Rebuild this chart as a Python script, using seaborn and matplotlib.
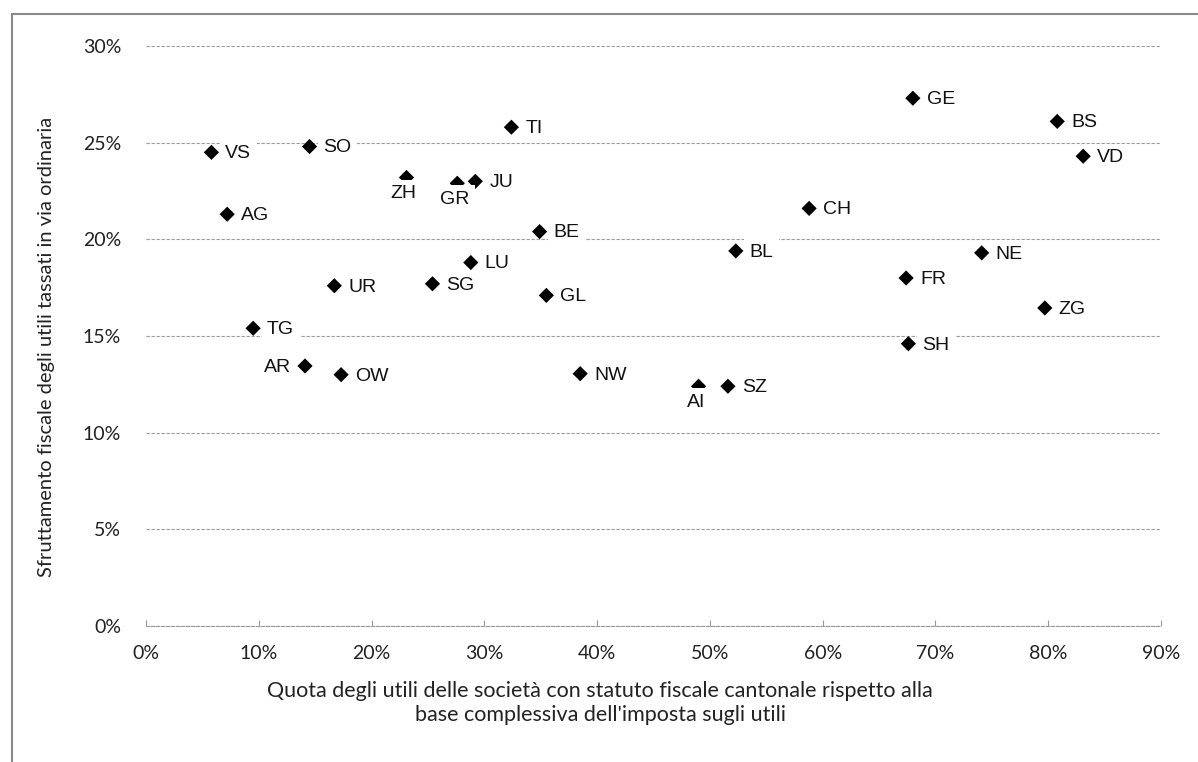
import matplotlib
matplotlib.use("Agg")
import matplotlib.pyplot as plt
from matplotlib.lines import Line2D
from matplotlib.ticker import FuncFormatter, MultipleLocator
import pandas as pd
import seaborn as sns

# Cantons (and Switzerland overall)
cantons = ["VS", "SO", "AG", "ZH", "GR", "JU", "TI", "BE", "LU", "SG", "UR", "GL",
           "TG", "AR", "OW", "NW", "AI", "SZ", "CH", "BL", "GE", "BS", "VD", "NE",
           "FR", "ZG", "SH"]
# Share of profits of companies with cantonal tax status (in % of the profit tax base)
share_status = [5.8, 14.5, 7.2, 23.1, 27.6, 29.2, 32.4, 34.9, 28.8, 25.4, 16.7, 35.5,
                9.5, 14.1, 17.3, 38.5, 49.0, 51.6, 58.8, 52.3, 68.0, 80.8, 83.1, 74.1,
                67.4, 79.7, 67.6]
# Fiscal exploitation of ordinarily taxed profits (%)
exploitation = [24.5, 24.8, 21.3, 23.2, 22.9, 23.0, 25.8, 20.4, 18.8, 17.7, 17.6, 17.1,
                15.4, 13.45, 13.0, 13.05, 12.4, 12.4, 21.6, 19.4, 27.3, 26.1, 24.3, 19.3,
                18.0, 16.45, 14.6]

# Labels placed left of or below their marker; the others go to the right
left_labels = {"AR"}
below_labels = {"ZH", "GR", "AI"}

df = pd.DataFrame({"canton": cantons, "x": share_status, "y": exploitation})

sns.set_theme(style="white")
plt.rcParams["font.family"] = ["Lato", "DejaVu Sans"]

fig = plt.figure(figsize=(11.98, 7.62), dpi=100)
ax = fig.add_axes([146 / 1198, 1 - 626 / 762, (1161 - 146) / 1198, (626 - 46) / 762])

sns.scatterplot(data=df, x="x", y="y", marker="D", color="black", s=60,
                edgecolor="none", ax=ax, zorder=3)

label_font = ["Liberation Sans Narrow", "Liberation Sans", "DejaVu Sans"]
box = dict(boxstyle="square,pad=0.28", facecolor="white", edgecolor="none")
for name, xv, yv in zip(df["canton"], df["x"], df["y"]):
    if name in left_labels:
        off, ha, va = (-10, -1), "right", "center"
    elif name in below_labels:
        off, ha, va = (-2, -5.5), "center", "top"
    else:
        off, ha, va = (10, -1), "left", "center"
    ax.annotate(name, (xv, yv), xytext=off, textcoords="offset points",
                ha=ha, va=va, fontsize=14, family=label_font, color="#111111",
                bbox=box, zorder=4)

ax.set_xlim(0, 90)
ax.set_ylim(0, 30)
ax.xaxis.set_major_locator(MultipleLocator(10))
ax.yaxis.set_major_locator(MultipleLocator(5))
pct = FuncFormatter(lambda v, _: f"{v:.0f}%")
ax.xaxis.set_major_formatter(pct)
ax.yaxis.set_major_formatter(pct)

grid_color = "#9a9a9a"
grid_dash = (0, (3, 1.5))
ax.grid(axis="y", color=grid_color, linestyle=grid_dash, linewidth=0.8)
ax.grid(axis="x", visible=False)
for side in ["left", "right", "top"]:
    ax.spines[side].set_visible(False)
ax.spines["bottom"].set_color(grid_color)
ax.spines["bottom"].set_linestyle(grid_dash)
ax.spines["bottom"].set_linewidth(0.8)
ax.set_axisbelow(True)

ax.tick_params(axis="x", direction="in", length=4, width=0.8, color=grid_color,
               labelsize=14, pad=14, labelcolor="#222222", bottom=True)
ax.tick_params(axis="y", length=0, labelsize=14, pad=18, labelcolor="#222222")
ax.set_xlabel("")
ax.set_ylabel("")

fig.text(0.501, 1 - 703 / 762,
         "Quota degli utili delle società con statuto fiscale cantonale rispetto alla\n"
         "base complessiva dell'imposta sugli utili",
         ha="center", va="center", fontsize=15.5, color="#222222", linespacing=1.3)
fig.text(47 / 1198, 1 - 347 / 762,
         "Sfruttamento fiscale degli utili tassati in via ordinaria",
         rotation=90, ha="center", va="center", fontsize=14.5, color="#222222")

# Outer frame of the chart area
fig.add_artist(Line2D([12 / 1198, 12 / 1198], [0, 1 - 14 / 762],
                      transform=fig.transFigure, color="#8a8a8a", linewidth=1.5))
fig.add_artist(Line2D([12 / 1198, 1], [1 - 14 / 762, 1 - 14 / 762],
                      transform=fig.transFigure, color="#8a8a8a", linewidth=1.5))

fig.savefig("out.png", dpi=100, facecolor="white")
